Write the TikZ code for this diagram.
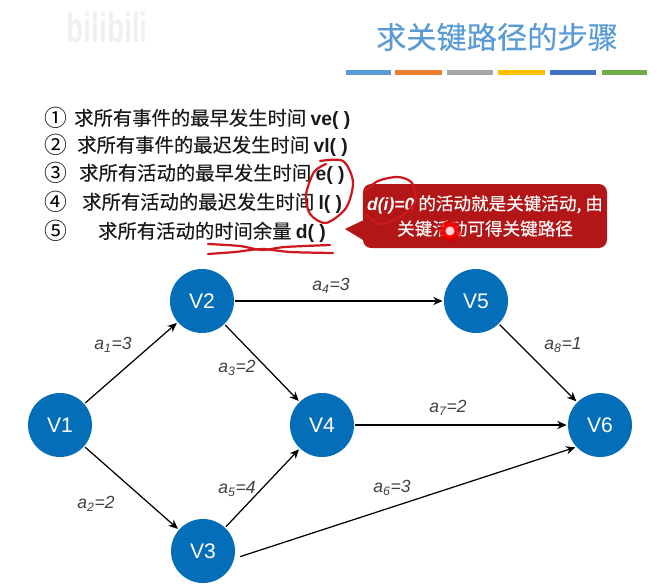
\documentclass[tikz,border=0pt]{standalone}
\usepackage{fontspec}
\setmainfont{Noto Sans CJK SC}
\newfontfamily\latinfont{Liberation Sans}
\newfontfamily\heavyfont[FakeBold=0.25]{Noto Sans CJK SC}
\usetikzlibrary{arrows.meta}
\definecolor{titleblue}{RGB}{91,155,213}
\definecolor{vertexblue}{RGB}{5,110,185}
\definecolor{calloutred}{RGB}{178,22,22}
\definecolor{inkred}{RGB}{205,25,30}
\definecolor{barorange}{RGB}{237,125,49}
\definecolor{bargray}{RGB}{165,165,165}
\definecolor{baryellow}{RGB}{255,192,0}
\definecolor{barblue}{RGB}{68,114,196}
\definecolor{bargreen}{RGB}{112,173,71}
\tikzset{
  vertex/.style={circle,fill=vertexblue,text=white,minimum size=1.92cm,inner sep=0pt,font=\latinfont\fontsize{18}{20}\selectfont},
  edge/.style={-{Stealth[length=8pt,width=7pt]},line width=1.05pt,black,shorten <=1pt,shorten >=1pt},
  weight/.style={inner sep=0pt,font=\latinfont\itshape\fontsize{15}{17}\selectfont,black!75},
  stepnum/.style={inner sep=0pt,font=\fontsize{19.5}{22}\selectfont},
  steptext/.style={anchor=west,inner sep=0pt,font=\heavyfont\fontsize{16.5}{20}\selectfont,black!90},
  ink/.style={inkred,line width=1.9pt,line cap=round}
}
\newcommand{\fname}[1]{{\latinfont\bfseries #1}}
\begin{document}
\begin{tikzpicture}[x=0.03cm,y=-0.03cm]
\useasboundingbox (0,0) rectangle (668,587);
% Watermark
\node[inner sep=0pt,black!6,font=\latinfont\bfseries\fontsize{24}{28}\selectfont] (mark) at (107,27) {\scalebox{1}[1.5]{bilibili}};
% Title
\node[inner sep=0pt,titleblue,font=\heavyfont\fontsize{25.8}{30}\selectfont] (title) at (497,37) {求关键路径的步骤};
\fill[titleblue] (346,70) rectangle (391,75);
\fill[barorange] (395,70) rectangle (442,75);
\fill[bargray] (447,70) rectangle (493,75);
\fill[baryellow] (498,70) rectangle (545,75);
\fill[barblue] (550,70) rectangle (596,75);
\fill[bargreen] (602,70) rectangle (647,75);
% Steps
\node[stepnum] (n1) at (56,118) {①};
\node[stepnum] (n2) at (56,145) {②};
\node[stepnum] (n3) at (56,173) {③};
\node[stepnum] (n4) at (56,202) {④};
\node[stepnum] (n5) at (56,231) {⑤};
\node[steptext] (s1) at (74,119) {求所有事件的最早发生时间 \fname{ve( )}};
\node[steptext] (s2) at (77,146) {求所有事件的最迟发生时间 \fname{vl( )}};
\node[steptext] (s3) at (79,174) {求所有活动的最早发生时间 \fname{e( )}};
\node[steptext] (s4) at (82,203) {求所有活动的最迟发生时间 \fname{l( )}};
\node[steptext] (s5) at (98,232) {求所有活动的时间余量 \fname{d( )}};
% Callout
\fill[calloutred] (345,229)--(368,218)--(368,243)--cycle;
\node[fill=calloutred,text=white,rounded corners=7pt,minimum width=7.32cm,minimum height=1.92cm,
  inner sep=0pt,align=center,font=\heavyfont\fontsize{15}{21.5}\selectfont] (msg) at (485,216)
  {{\latinfont\bfseries\itshape d(i)=0} 的活动就是关键活动, 由\\关键活动可得关键路径};
% Vertices
\node[vertex] (V1) at (60,425) {V1};
\node[vertex] (V2) at (202,301) {V2};
\node[vertex] (V3) at (203,551) {V3};
\node[vertex] (V4) at (322,425) {V4};
\node[vertex] (V5) at (476,301) {V5};
\node[vertex] (V6) at (600,425) {V6};
\coordinate (c6) at (239,557);
% Edges
\draw[edge] (V1)--(V2);
\draw[edge] (V1)--(V3);
\draw[edge] (V2)--(V4);
\draw[edge] (V2)--(V5);
\draw[edge] (V3)--(V4);
\draw[edge] (c6)--(V6.223);
\draw[edge] (V4)--(V6);
\draw[edge] (V5)--(V6);
% Weights
\node[weight] (a1) at (113,345) {a\textsubscript{1}=3};
\node[weight] (a2) at (96,504) {a\textsubscript{2}=2};
\node[weight] (a3) at (237,368) {a\textsubscript{3}=2};
\node[weight] (a4) at (331,286) {a\textsubscript{4}=3};
\node[weight] (a5) at (237,489) {a\textsubscript{5}=4};
\node[weight] (a6) at (392,488) {a\textsubscript{6}=3};
\node[weight] (a7) at (448,408) {a\textsubscript{7}=2};
\node[weight] (a8) at (563,345) {a\textsubscript{8}=1};
% Handwriting
\draw[ink] plot[smooth] coordinates {(320,161) (343,161) (353,182) (346,208) (326,223) (310,214) (306,195) (314,172) (326,164)};
\draw[ink] plot[smooth] coordinates {(364,192) (378,181) (398,177) (412,183) (415,202) (400,217) (380,224) (366,214)};
\draw[ink] plot[smooth] coordinates {(208,244) (240,246) (262,250) (285,247) (330,245)};
\draw[ink] plot[smooth] coordinates {(208,254) (235,252) (262,249) (290,252) (333,253)};
% Pointer dot
\fill[red!85!black,opacity=0.75] (450,231) circle (11);
\fill[red,opacity=0.8] (450,231) circle (8);
\fill[white!85!red] (450,231) circle (4.5);
\end{tikzpicture}
\end{document}
